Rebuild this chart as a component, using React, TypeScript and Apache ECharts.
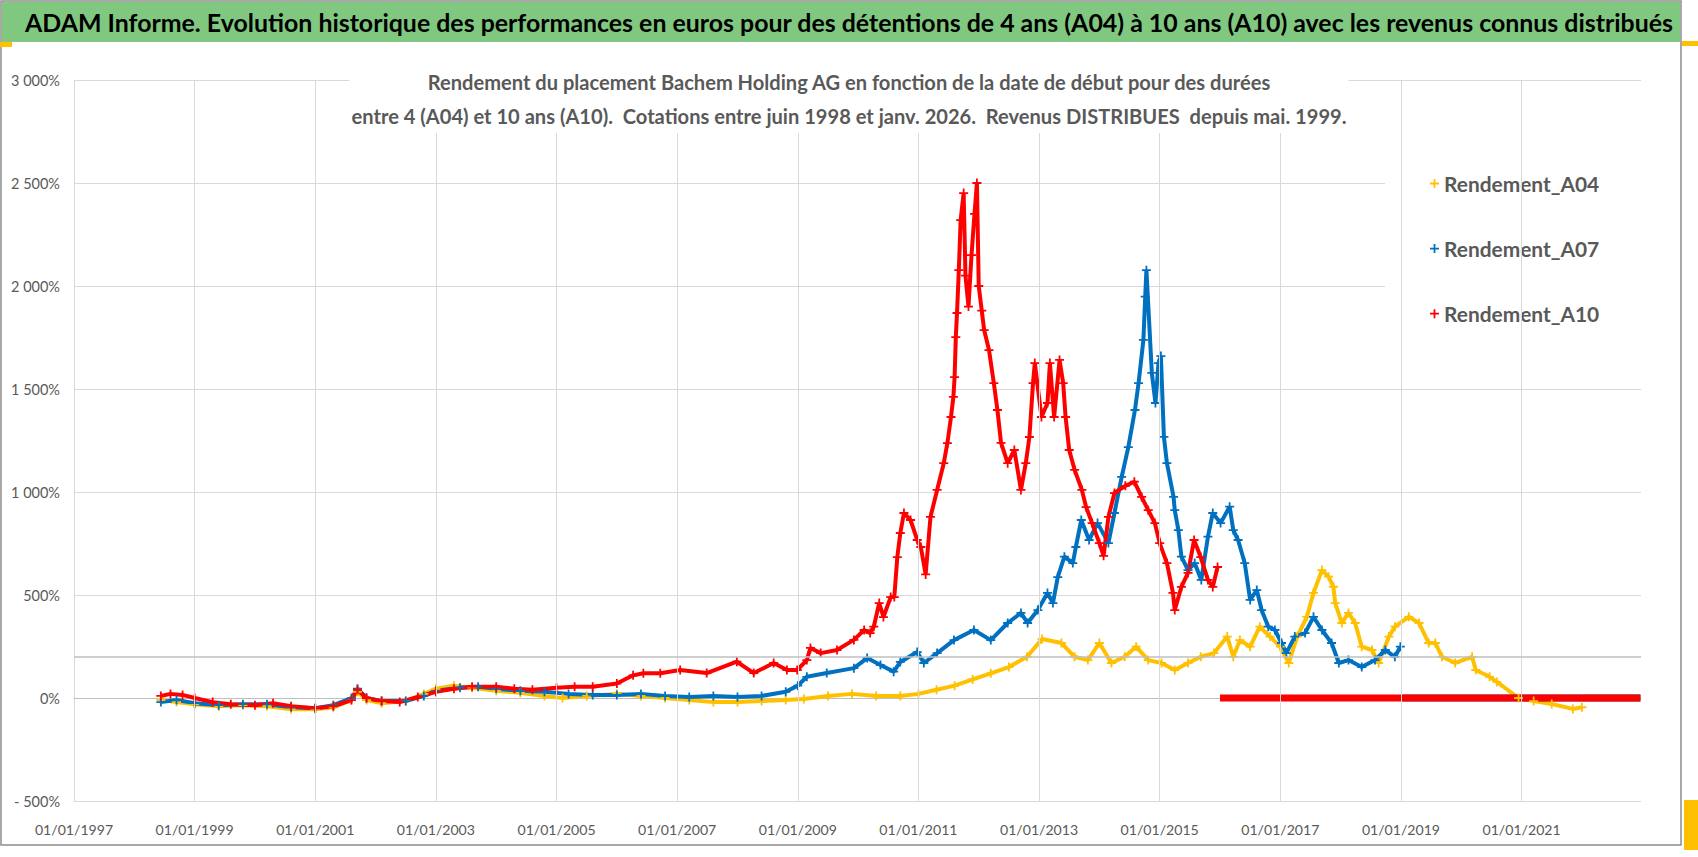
import React, { useEffect, useRef } from "react";
import * as echarts from "echarts";

// ---------- data (x = decimal year, y = rendement in %) ----------
const X0 = 1997;
const X_MAX = 2022.98;
const X_STEP = 2;
const Y_MIN = -500;
const Y_MAX = 3000;
const Y_STEP = 500;
const GRID_YEARS = [1999, 2001, 2003, 2005, 2007, 2009, 2011, 2013, 2015, 2017, 2019, 2021];
const REF_LINE = 200;

const NAMES = ["Rendement_A04", "Rendement_A07", "Rendement_A10"];
const COLORS = ["#FFC000", "#0070C0", "#FF0000"];

const TITLE =
  "ADAM Informe. Evolution historique des performances en euros pour des détentions de 4 ans (A04) à 10 ans (A10) avec les revenus connus distribués";
const SUB_1 = "Rendement du placement Bachem Holding AG en fonction de la date de début pour des durées";
const SUB_2 = "entre 4 (A04) et 10 ans (A10).  Cotations entre juin 1998 et janv. 2026.  Revenus DISTRIBUES  depuis mai. 1999.";

const A04: [number, number][] = [
  [1998.44, -10], [1998.7, -20], [1999.0, -30], [1999.4, -40], [1999.8, -35], [2000.2, -40],
  [2000.6, -55], [2001.0, -55], [2001.3, -45], [2001.6, -10], [2001.7, 30], [2001.85, -10],
  [2002.1, -25], [2002.5, -15], [2002.8, 20], [2003.0, 45], [2003.3, 60], [2003.6, 50],
  [2004.0, 35], [2004.4, 25], [2004.8, 10], [2005.1, 0], [2005.5, 10], [2006.0, 20],
  [2006.4, 10], [2006.8, 0], [2007.2, -10], [2007.6, -20], [2008.0, -20], [2008.4, -15],
  [2008.8, -10], [2009.1, -5], [2009.5, 10], [2009.9, 20], [2010.3, 10], [2010.7, 10],
  [2011.0, 20], [2011.3, 40], [2011.6, 60], [2011.9, 90], [2012.2, 120], [2012.5, 150],
  [2012.8, 200], [2013.05, 286], [2013.37, 267], [2013.59, 200], [2013.81, 184], [2014.0, 267],
  [2014.2, 170], [2014.42, 200], [2014.61, 249], [2014.81, 184], [2015.03, 170], [2015.25, 136],
  [2015.47, 170], [2015.68, 200], [2015.9, 218], [2016.12, 298], [2016.22, 200], [2016.33, 281],
  [2016.5, 249], [2016.66, 346], [2016.83, 298], [2017.0, 249], [2017.14, 170], [2017.28, 298],
  [2017.44, 394], [2017.55, 510], [2017.69, 621], [2017.8, 589], [2017.88, 540], [2017.91, 461],
  [2018.02, 364], [2018.13, 413], [2018.24, 364], [2018.35, 249], [2018.52, 233], [2018.63, 170],
  [2018.8, 298], [2018.9, 346], [2019.13, 394], [2019.3, 364], [2019.46, 267], [2019.57, 267],
  [2019.68, 200], [2019.9, 170], [2020.18, 200], [2020.24, 136], [2020.47, 103], [2020.59, 78],
  [2020.95, 0], [2021.2, -15], [2021.5, -29], [2021.85, -53], [2022.0, -45],
];
const A04_TAIL: [number, number][] = [[2022.0, 0], [2022.97, 0]];

const A07: [number, number][] = [
  [1998.44, -20], [1998.7, -10], [1999.0, -25], [1999.4, -35], [1999.8, -30], [2000.2, -30],
  [2000.6, -45], [2001.0, -50], [2001.3, -35], [2001.6, 0], [2001.7, 45], [2001.85, 0],
  [2002.1, -15], [2002.5, -15], [2002.8, 10], [2003.0, 35], [2003.4, 50], [2003.7, 55],
  [2004.0, 45], [2004.4, 35], [2004.8, 30], [2005.2, 20], [2005.6, 15], [2006.0, 15],
  [2006.4, 20], [2006.8, 10], [2007.2, 5], [2007.6, 10], [2008.0, 5], [2008.4, 10],
  [2008.8, 30], [2009.0, 60], [2009.15, 103], [2009.48, 121], [2009.93, 145], [2010.15, 194],
  [2010.37, 160], [2010.59, 128], [2010.7, 175], [2010.98, 223], [2011.09, 170], [2011.31, 218],
  [2011.59, 281], [2011.92, 330], [2012.2, 281], [2012.48, 364], [2012.7, 413], [2012.81, 364],
  [2012.98, 427], [2013.14, 510], [2013.23, 461], [2013.31, 587], [2013.42, 686], [2013.56, 655],
  [2013.61, 733], [2013.7, 864], [2013.83, 767], [2013.97, 849], [2014.15, 752], [2014.25, 898],
  [2014.37, 1073], [2014.48, 1218], [2014.59, 1398], [2014.65, 1529], [2014.73, 1738], [2014.76, 1948],
  [2014.78, 2077], [2014.87, 1578], [2014.93, 1432], [2014.98, 1626], [2015.02, 1660], [2015.07, 1268],
  [2015.12, 1140], [2015.23, 976], [2015.25, 912], [2015.31, 815], [2015.36, 686], [2015.47, 621],
  [2015.58, 655], [2015.69, 573], [2015.8, 783], [2015.88, 898], [2016.01, 849], [2016.16, 929],
  [2016.22, 815], [2016.3, 767], [2016.41, 655], [2016.5, 476], [2016.61, 524], [2016.69, 427],
  [2016.8, 346], [2016.91, 330], [2017.02, 267], [2017.1, 218], [2017.24, 298], [2017.41, 315],
  [2017.55, 394], [2017.69, 330], [2017.85, 267], [2017.97, 170], [2018.13, 184], [2018.35, 150],
  [2018.57, 184], [2018.74, 233], [2018.9, 200], [2018.99, 249],
];
const A07_TAIL: [number, number][] = [[2019.0, 0], [2022.97, 0]];

const A10: [number, number][] = [
  [1998.44, 10], [1998.6, 20], [1998.8, 15], [1999.0, 0], [1999.3, -20], [1999.6, -30],
  [2000.0, -35], [2000.3, -25], [2000.6, -40], [2001.0, -50], [2001.3, -40], [2001.6, -10],
  [2001.7, 40], [2001.85, 0], [2002.1, -15], [2002.4, -20], [2002.7, 5], [2003.0, 30],
  [2003.3, 45], [2003.6, 55], [2004.0, 55], [2004.3, 45], [2004.6, 40], [2005.0, 50],
  [2005.3, 55], [2005.6, 55], [2006.0, 70], [2006.27, 110], [2006.44, 120], [2006.72, 120],
  [2007.05, 136], [2007.49, 121], [2007.99, 176], [2008.27, 121], [2008.6, 170], [2008.82, 136],
  [2008.99, 136], [2009.15, 184], [2009.21, 243], [2009.38, 218], [2009.65, 233], [2009.93, 282],
  [2010.1, 330], [2010.2, 315], [2010.26, 346], [2010.35, 461], [2010.42, 393], [2010.54, 490],
  [2010.6, 490], [2010.65, 684], [2010.7, 801], [2010.76, 898], [2010.87, 864], [2010.98, 767],
  [2011.04, 733], [2011.12, 600], [2011.2, 879], [2011.31, 1010], [2011.42, 1140], [2011.48, 1237],
  [2011.54, 1364], [2011.58, 1462], [2011.6, 1558], [2011.62, 1752], [2011.64, 1869], [2011.67, 2077],
  [2011.7, 2320], [2011.75, 2451], [2011.78, 2050], [2011.83, 1900], [2011.88, 2150], [2011.93, 2350],
  [2011.97, 2500], [2012.0, 2000], [2012.05, 1880], [2012.09, 1786], [2012.17, 1689], [2012.25, 1529],
  [2012.31, 1398], [2012.37, 1238], [2012.48, 1140], [2012.59, 1204], [2012.7, 1010], [2012.78, 1140],
  [2012.84, 1267], [2012.9, 1529], [2012.93, 1626], [2013.04, 1364], [2013.14, 1432], [2013.18, 1626],
  [2013.25, 1364], [2013.34, 1641], [2013.4, 1529], [2013.44, 1364], [2013.5, 1204], [2013.59, 1107],
  [2013.71, 1010], [2013.78, 927], [2013.88, 849], [2014.0, 752], [2014.07, 690], [2014.15, 879],
  [2014.25, 995], [2014.43, 1030], [2014.58, 1050], [2014.7, 976], [2014.81, 912], [2014.92, 849],
  [2015.0, 752], [2015.12, 655], [2015.22, 510], [2015.25, 427], [2015.36, 539], [2015.47, 607],
  [2015.57, 767], [2015.68, 684], [2015.8, 573], [2015.88, 539], [2015.96, 636],
];
const A10_TAIL: [number, number][] = [[2016.0, 0], [2022.97, 0]];

// ---------- presentation ----------
const FONT = "Lato, 'DejaVu Sans Condensed', sans-serif";
const PLUS = "path://M4,0H6V4H10V6H6V10H4V6H0V4H4Z";
const GRAY = "#595959";

// font size that makes `text` span `target` pixels
function fitSize(text: string, weight: string, target: number): number {
  const ctx = document.createElement("canvas").getContext("2d");
  if (!ctx) return 16;
  ctx.font = `${weight} 100px ${FONT}`;
  const w = ctx.measureText(text).width || 1;
  return Math.round((100 * target) / w * 10) / 10;
}

const shift = (pts: [number, number][]) => pts.map(([x, y]) => [x - X0, y]);

function yLabel(v: number): string {
  const a = Math.abs(v);
  const s = a >= 1000 ? Math.floor(a / 1000) + " " + String(a % 1000).padStart(3, "0") : String(a);
  return (v < 0 ? "- " : "") + s + "%";
}
function xLabel(v: number): string {
  const r = Math.round(v);
  if (Math.abs(v - r) > 1e-6 || r % 2 !== 0) return "";
  return "01/01/" + (X0 + r);
}

function mainSeries(i: number, pts: [number, number][]) {
  return {
    name: NAMES[i],
    type: "line",
    data: shift(pts),
    z: 2,
    symbol: PLUS,
    symbolSize: 9,
    showSymbol: true,
    lineStyle: { color: COLORS[i], width: 4 },
    itemStyle: { color: COLORS[i] },
    emphasis: { disabled: true },
  };
}
function tailSeries(i: number, pts: [number, number][], z: number, extra: any = {}) {
  return {
    name: NAMES[i],
    type: "line",
    data: shift(pts),
    z,
    symbol: "none",
    showSymbol: false,
    lineStyle: { color: COLORS[i], width: 7 },
    itemStyle: { color: COLORS[i] },
    emphasis: { disabled: true },
    ...extra,
  };
}

export default function App() {
  const ref = useRef<HTMLDivElement>(null);
  useEffect(() => {
    document.body.style.margin = "0";
    const chart = echarts.init(ref.current!, null, { renderer: "svg" });

    const titleSize = fitSize(TITLE, "bold", 1648);
    const subSize = fitSize(SUB_2, "bold", 994);
    const legendSize = fitSize(NAMES[0], "bold", 155);
    const xSize = fitSize("01/01/2011", "normal", 78);
    const ySize = fitSize("3 000%", "normal", 49);

    const gridLines = [
      ...GRID_YEARS.map((yr) => ({ xAxis: yr - X0, lineStyle: { color: "#d9d9d9", width: 1, type: "solid" } })),
      { yAxis: REF_LINE, lineStyle: { color: "#bfbfbf", width: 1.5, type: "solid" } },
    ];
    const legendGap = 65 - legendSize;
    const legendPadTop = Math.round(33 - legendSize / 2);

    chart.setOption({
      animation: false,
      backgroundColor: "#ffffff",
      title: [
        {
          text: TITLE,
          left: "center",
          top: 8,
          padding: 0,
          textStyle: { fontFamily: FONT, fontSize: titleSize, fontWeight: "bold", color: "#000000", lineHeight: 28 },
        },
        {
          text: SUB_1 + "\n" + SUB_2,
          left: "center",
          top: 65,
          padding: [0, 2],
          backgroundColor: "#ffffff",
          textStyle: { fontFamily: FONT, fontSize: subSize, fontWeight: "bold", color: GRAY, lineHeight: 34 },
        },
      ],
      graphic: [
        { type: "rect", z: 0, silent: true, shape: { x: 2, y: 2, width: 1678, height: 40 }, style: { fill: "#80C880" } },
        { type: "rect", z: 10, silent: true, shape: { x: 1, y: 1, width: 1680, height: 844 }, style: { fill: "none", stroke: "#8c8c8c", lineWidth: 1.5 } },
        { type: "rect", z: 11, silent: true, shape: { x: 0, y: 42, width: 12, height: 5 }, style: { fill: "#FFC000" } },
        { type: "rect", z: 11, silent: true, shape: { x: 1682, y: 41, width: 16, height: 5 }, style: { fill: "#FFC000" } },
        { type: "rect", z: 11, silent: true, shape: { x: 1684, y: 800, width: 14, height: 50 }, style: { fill: "#FFC000" } },
      ],
      legend: {
        data: NAMES,
        orient: "vertical",
        left: 1385,
        top: 150,
        icon: PLUS,
        itemWidth: 9,
        itemHeight: 9,
        itemGap: legendGap,
        padding: [legendPadTop, 68, 22, 45],
        backgroundColor: "#ffffff",
        selectedMode: false,
        textStyle: { fontFamily: FONT, fontSize: legendSize, fontWeight: "bold", color: GRAY },
      },
      grid: { left: 74, right: 57, top: 80, bottom: 56, containLabel: false },
      xAxis: {
        type: "value",
        min: 0,
        max: X_MAX - X0,
        interval: X_STEP,
        axisLine: { show: true, lineStyle: { color: "#bfbfbf", width: 1 } },
        axisTick: { show: false },
        splitLine: { show: false },
        axisLabel: { formatter: xLabel, color: GRAY, fontSize: xSize, fontFamily: FONT, margin: 21, showMaxLabel: false },
      },
      yAxis: {
        type: "value",
        min: Y_MIN,
        max: Y_MAX,
        interval: Y_STEP,
        axisLine: { show: true, lineStyle: { color: "#d9d9d9", width: 1 } },
        axisTick: { show: false },
        splitLine: { show: true, lineStyle: { color: "#d9d9d9", width: 1 } },
        axisLabel: { formatter: yLabel, color: GRAY, fontSize: ySize, fontFamily: FONT, margin: 14 },
      },
      series: [
        tailSeries(0, A04_TAIL, 1, {
          markLine: { silent: true, symbol: ["none", "none"], label: { show: false }, emphasis: { disabled: true }, data: gridLines },
        }),
        mainSeries(0, A04),
        tailSeries(1, A07_TAIL, 2),
        mainSeries(1, A07),
        mainSeries(2, A10),
        tailSeries(2, A10_TAIL, 2),
      ],
    });
    return () => chart.dispose();
  }, []);
  return <div ref={ref} style={{ position: "absolute", left: 0, top: 0, width: 1698, height: 857 }} />;
}
